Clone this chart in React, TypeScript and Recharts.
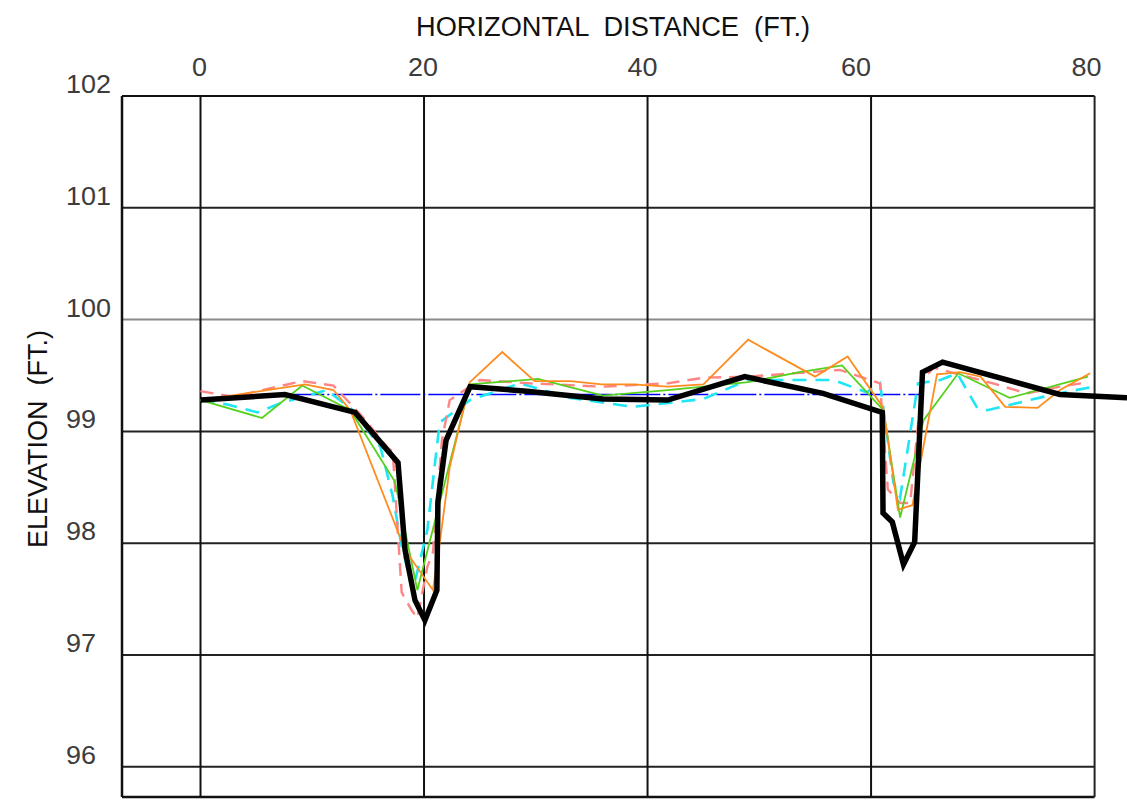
import React from 'react';
import { LineChart, Line, XAxis, YAxis, ReferenceLine, Label } from 'recharts';

// axis ticks / frame
const X_TICKS = [0, 20, 40, 60, 80];
const Y_TICKS = [96, 97, 98, 99, 100, 101, 102];
const X_GRID = [0, 20, 40, 60];
const Y_GRID = [96, 97, 98, 99, 100, 101];
const X_MIN = -7.025;
const X_MAX = 82.9;
const X_FRAME = 80;
const Y_MIN = 95.73;
const Y_MAX = 102;

// label nudges as drawn in the original sheet
const X_LABEL_SHIFT: Record<number, number> = { 0: -1, 20: -1, 40: -5, 60: -15, 80: -8 };

// existing ground (thick black)
const existingGround: [number, number][] = [
  [0, 99.28], [7.56, 99.33], [13.83, 99.17], [17.67, 98.72], [18.3, 97.94],
  [19.19, 97.49], [20.08, 97.31], [21.15, 97.58], [21.24, 98.37], [21.97, 98.92],
  [24.12, 99.4], [29.2, 99.36], [36.0, 99.29], [41.8, 99.28], [48.7, 99.49],
  [55.7, 99.34], [61.0, 99.17], [61.07, 98.27], [61.9, 98.19], [62.9, 97.81],
  [63.9, 98.01], [64.6, 99.53], [66.4, 99.62], [76.9, 99.33], [82.9, 99.3],
];

// survey A (orange)
const surveyA: [number, number][] = [
  [0, 99.28], [9.35, 99.42], [11.9, 99.37], [13.4, 99.19], [18.3, 97.94],
  [20.8, 97.58], [21.4, 98.0], [22.3, 98.68], [24.1, 99.44], [27.0, 99.71],
  [29.9, 99.45], [33.1, 99.45], [35.9, 99.42], [38.7, 99.42], [41.8, 99.4],
  [45.0, 99.42], [49.0, 99.82], [55.0, 99.49], [57.9, 99.67], [61.1, 99.21],
  [62.4, 98.3], [63.7, 98.34], [65.9, 99.51], [67.95, 99.53], [69.8, 99.49],
  [72.0, 99.22], [74.9, 99.21], [76.9, 99.37], [79.6, 99.52],
];

// survey B (green)
const surveyB: [number, number][] = [
  [0, 99.28], [5.5, 99.12], [9.1, 99.41], [13.4, 99.19], [17.4, 98.55],
  [19.4, 97.58], [24.1, 99.42], [30.2, 99.47], [36.0, 99.32], [41.8, 99.37],
  [45.0, 99.4], [49.0, 99.44], [53.6, 99.53], [57.4, 99.59], [61.1, 99.19],
  [62.6, 98.23], [64.7, 99.1], [67.8, 99.52], [72.4, 99.3], [79.4, 99.49],
];

// survey C (pink dashed)
const surveyC: [number, number][] = [
  [0, 99.36], [2.9, 99.31], [9.1, 99.45], [11.9, 99.41], [14.5, 99.13],
  [16.8, 98.85], [17.2, 98.82], [18.0, 97.56], [18.9, 97.4], [19.4, 97.33],
  [20.3, 97.79], [20.8, 97.92], [21.6, 98.92], [22.3, 99.28], [25.0, 99.46],
  [29.5, 99.43], [36.0, 99.4], [41.8, 99.43], [45.0, 99.48], [49.0, 99.49],
  [57.2, 99.55], [60.8, 99.43], [61.5, 98.48], [62.6, 98.36], [63.5, 98.36],
  [64.6, 99.46], [65.6, 99.57], [67.1, 99.53], [70.9, 99.43], [73.9, 99.34],
  [76.9, 99.4], [79.4, 99.44],
];

// survey D (cyan dashed)
const surveyD: [number, number][] = [
  [0, 99.28], [2.4, 99.24], [5.1, 99.17], [7.1, 99.25], [11.3, 99.37],
  [13.5, 99.2], [16.1, 98.86], [17.2, 98.42], [18.0, 97.97], [19.0, 97.58],
  [20.3, 98.12], [21.4, 99.08], [24.1, 99.28], [28.6, 99.43], [33.1, 99.3],
  [38.7, 99.22], [45.0, 99.29], [49.0, 99.46], [56.6, 99.46], [59.6, 99.35],
  [60.8, 99.43], [62.0, 98.54], [62.6, 98.41], [64.2, 99.43], [66.2, 99.46],
  [67.7, 99.52], [69.5, 99.21], [70.4, 99.19], [76.3, 99.33], [79.9, 99.4],
];

// water surface
const waterSurface: [number, number][] = [
  [7.5, 99.33], [64.6, 99.33],
];

const toPoints = (pts: [number, number][]) => pts.map(([x, y]) => ({ x, y }));

const FONT = "'Liberation Sans', Arial, sans-serif";

const XTick = (props: any) => {
  const { x, y, payload } = props;
  const shift = X_LABEL_SHIFT[payload.value] ?? 0;
  return (
    <text x={x + shift} y={y - 20} textAnchor="middle" fontSize={26} fill="#3c3c3c" fontFamily={FONT}
      textLength={String(payload.value).length * 15} lengthAdjust="spacingAndGlyphs">
      {payload.value}
    </text>
  );
};

const YTick = (props: any) => {
  const { x, y, payload } = props;
  return (
    <text x={x - 56} y={y - 3} textAnchor="start" fontSize={26} fill="#3c3c3c" fontFamily={FONT}
      textLength={String(payload.value).length * 15} lengthAdjust="spacingAndGlyphs">
      {payload.value}
    </text>
  );
};

const XTitle = () => (
  <text x={613} y={36} textAnchor="middle" fontSize={27} fill="#111" fontFamily={FONT}
    style={{ whiteSpace: 'pre' }} textLength={394} lengthAdjust="spacingAndGlyphs">
    {'HORIZONTAL  DISTANCE  (FT.)'}
  </text>
);

const YTitle = () => (
  <text x={47} y={439} transform="rotate(-90 47 439)" textAnchor="middle" fontSize={27} fill="#111"
    fontFamily={FONT} style={{ whiteSpace: 'pre' }} textLength={218} lengthAdjust="spacingAndGlyphs">
    {'ELEVATION  (FT.)'}
  </text>
);

export default function App() {
  return (
    <div style={{ position: 'absolute', left: 0, top: 0, background: '#fff' }}>
      <LineChart width={1127} height={803} margin={{ top: 36, right: 0, bottom: 6, left: 56 }}>
        <XAxis
          type="number"
          dataKey="x"
          orientation="top"
          domain={[X_MIN, X_MAX]}
          ticks={X_TICKS}
          height={60}
          axisLine={false}
          tickLine={false}
          tickSize={0}
          tickMargin={0}
          tick={<XTick />}
          interval={0}
        >
          <Label content={<XTitle />} />
        </XAxis>
        <YAxis
          type="number"
          dataKey="y"
          domain={[Y_MIN, Y_MAX]}
          ticks={Y_TICKS}
          width={66}
          axisLine={false}
          tickLine={false}
          tickSize={0}
          tickMargin={0}
          tick={<YTick />}
          interval={0}
        >
          <Label content={<YTitle />} />
        </YAxis>

        {Y_GRID.map((v) => (
          <ReferenceLine key={`h${v}`} segment={[{ x: X_MIN, y: v }, { x: X_FRAME, y: v }]}
            stroke={v === 100 ? '#8a8a8a' : '#222'} strokeWidth={2} ifOverflow="visible" />
        ))}
        {X_GRID.map((v) => (
          <ReferenceLine key={`v${v}`} segment={[{ x: v, y: Y_MIN }, { x: v, y: Y_MAX }]}
            stroke="#111" strokeWidth={2} ifOverflow="visible" />
        ))}
        {/* plot frame */}
        <ReferenceLine segment={[{ x: X_MIN, y: Y_MAX }, { x: X_FRAME, y: Y_MAX }]} stroke="#111" strokeWidth={2} ifOverflow="visible" />
        <ReferenceLine segment={[{ x: X_MIN, y: Y_MIN }, { x: X_FRAME, y: Y_MIN }]} stroke="#111" strokeWidth={2.5} ifOverflow="visible" />
        <ReferenceLine segment={[{ x: X_MIN, y: Y_MIN }, { x: X_MIN, y: Y_MAX }]} stroke="#111" strokeWidth={2.5} ifOverflow="visible" />
        <ReferenceLine segment={[{ x: X_FRAME, y: Y_MIN }, { x: X_FRAME, y: Y_MAX }]} stroke="#222" strokeWidth={2} ifOverflow="visible" />

        <Line data={toPoints(waterSurface)} dataKey="y" type="linear" stroke="#0000ff" strokeWidth={1.5}
          strokeDasharray="40 3 2 3" dot={false} activeDot={false} isAnimationActive={false} />
        <Line data={toPoints(surveyD)} dataKey="y" type="linear" stroke="#1ee6f5" strokeWidth={2.6}
          strokeDasharray="14 9" dot={false} activeDot={false} isAnimationActive={false} />
        <Line data={toPoints(surveyC)} dataKey="y" type="linear" stroke="#ff8484" strokeWidth={2.4}
          strokeDasharray="13 8" dot={false} activeDot={false} isAnimationActive={false} />
        <Line data={toPoints(surveyB)} dataKey="y" type="linear" stroke="#55d11c" strokeWidth={1.8}
          dot={false} activeDot={false} isAnimationActive={false} />
        <Line data={toPoints(surveyA)} dataKey="y" type="linear" stroke="#ff8c1f" strokeWidth={1.8}
          dot={false} activeDot={false} isAnimationActive={false} />
        <Line data={toPoints(existingGround)} dataKey="y" type="linear" stroke="#000" strokeWidth={5.5}
          strokeLinejoin="miter" dot={false} activeDot={false} isAnimationActive={false} />
      </LineChart>
    </div>
  );
}
